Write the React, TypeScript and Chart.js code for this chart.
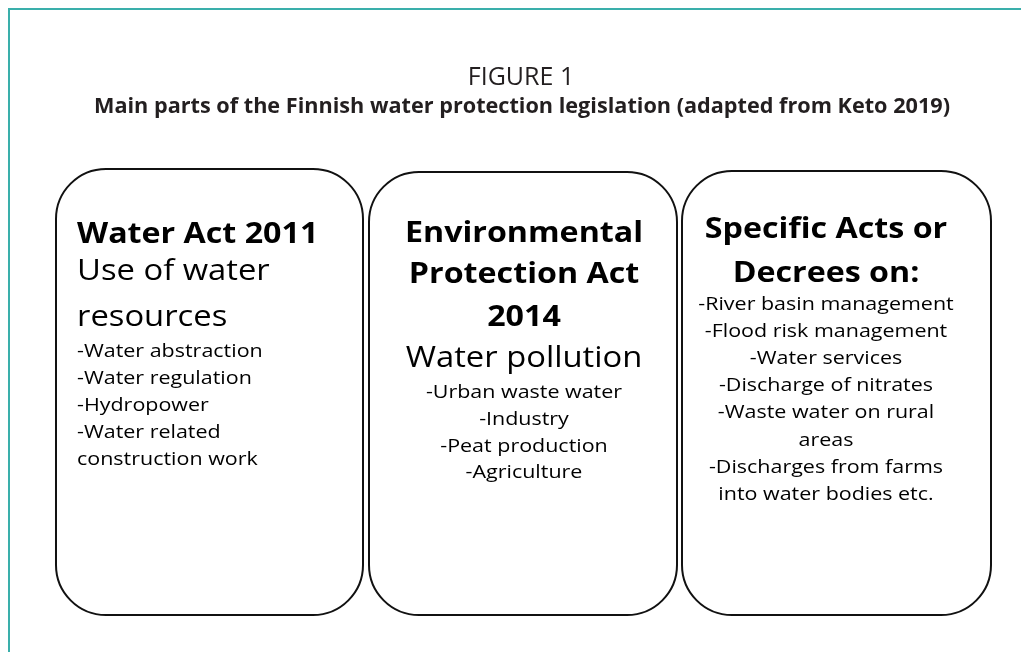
import React, { useEffect, useRef } from "react";
import { Chart, registerables } from "chart.js";

Chart.register(...registerables);

// ---- content ----
const figureLabel = "FIGURE 1";
const figureTitle =
  "Main parts of the Finnish water protection legislation (adapted from Keto 2019)";

const boxHeadings: string[][] = [
  ["Water Act 2011"],
  ["Environmental", "Protection Act", "2014"],
  ["Specific Acts or", "Decrees on:"],
];
const boxSubheadings: string[][] = [["Use of water", "resources"], ["Water pollution"], []];
const boxItems: string[][] = [
  ["-Water abstraction", "-Water regulation", "-Hydropower", "-Water related", "construction work"],
  ["-Urban waste water", "-Industry", "-Peat production", "-Agriculture"],
  [
    "-River basin management",
    "-Flood risk management",
    "-Water services",
    "-Discharge of nitrates",
    "-Waste water on rural",
    "areas",
    "-Discharges from farms",
    "into water bodies etc.",
  ],
];

// ---- layout (scale units == pixels) ----
const W = 1021;
const H = 652;
const boxLayout = [
  { x0: 56, x1: 363, y0: 169, y1: 615, align: "left", tx: 77, head: [243], sub: [280, 326], items: 357, step: 27 },
  { x0: 369, x1: 677, y0: 172, y1: 615, align: "center", tx: 524, head: [242, 283, 326], sub: [367], items: 398, step: 26.8 },
  { x0: 682, x1: 991, y0: 171, y1: 615, align: "center", tx: 826, head: [238, 282], sub: [], items: 310, step: 27.1 },
];
const FONT = "'Open Sans', 'Noto Sans', sans-serif";
const STRETCH = 1.15;

function stretchedText(ctx: CanvasRenderingContext2D, t: string, x: number, y: number, s: number) {
  ctx.save();
  ctx.translate(x, y);
  ctx.scale(s, 1);
  ctx.fillText(t, 0, 0);
  ctx.restore();
}

const diagramPlugin = {
  id: "diagram",
  afterDraw(chart: any) {
    const ctx: CanvasRenderingContext2D = chart.ctx;
    const xs = chart.scales.x;
    const ys = chart.scales.y;
    const px = (v: number) => xs.getPixelForValue(v);
    const py = (v: number) => ys.getPixelForValue(v);
    ctx.save();
    ctx.fillStyle = "#ffffff";
    ctx.fillRect(0, 0, chart.width, chart.height);

    // teal frame (top + left)
    ctx.strokeStyle = "#3aafab";
    ctx.lineWidth = 2;
    ctx.beginPath();
    ctx.moveTo(px(W), py(9));
    ctx.lineTo(px(9), py(9));
    ctx.lineTo(px(9), py(H));
    ctx.stroke();

    // titles
    ctx.fillStyle = "#231f20";
    ctx.textAlign = "center";
    ctx.textBaseline = "alphabetic";
    ctx.font = `400 25px ${FONT}`;
    ctx.fillText(figureLabel, px(521), py(85), 108);
    ctx.font = `700 22px ${FONT}`;
    ctx.fillText(figureTitle, px(522), py(113), 856);

    // boxes
    boxLayout.forEach((b, i) => {
      const x0 = px(b.x0), x1 = px(b.x1), y0 = py(b.y0), y1 = py(b.y1);
      const r = 50;
      ctx.strokeStyle = "#111111";
      ctx.lineWidth = 2;
      ctx.beginPath();
      ctx.moveTo(x0 + r, y0);
      ctx.lineTo(x1 - r, y0);
      ctx.arcTo(x1, y0, x1, y0 + r, r);
      ctx.lineTo(x1, y1 - r);
      ctx.arcTo(x1, y1, x1 - r, y1, r);
      ctx.lineTo(x0 + r, y1);
      ctx.arcTo(x0, y1, x0, y1 - r, r);
      ctx.lineTo(x0, y0 + r);
      ctx.arcTo(x0, y0, x0 + r, y0, r);
      ctx.closePath();
      ctx.stroke();

      ctx.fillStyle = "#000000";
      ctx.textAlign = b.align as CanvasTextAlign;
      const tx = px(b.tx);
      ctx.font = `700 28px ${FONT}`;
      boxHeadings[i].forEach((t, k) => stretchedText(ctx, t, tx, py(b.head[k]), STRETCH));
      ctx.font = `400 29px ${FONT}`;
      boxSubheadings[i].forEach((t, k) => stretchedText(ctx, t, tx, py(b.sub[k]), 1.13));
      ctx.font = `400 18.5px ${FONT}`;
      boxItems[i].forEach((t, k) => stretchedText(ctx, t, tx, py(b.items + k * b.step), 1.16));
    });
    ctx.restore();
  },
};

export default function App() {
  const ref = useRef<HTMLCanvasElement | null>(null);
  useEffect(() => {
    document.body.style.margin = "0";
    document.body.style.overflow = "hidden";
    if (!ref.current) return;
    const chart = new Chart(ref.current, {
      type: "scatter",
      data: { datasets: [{ data: [] }] },
      options: {
        animation: false,
        responsive: false,
        layout: { padding: 0 },
        plugins: { legend: { display: false }, tooltip: { enabled: false } },
        scales: {
          x: { type: "linear", min: 0, max: W, display: false },
          y: { type: "linear", min: 0, max: H, reverse: true, display: false },
        },
      },
      plugins: [diagramPlugin],
    });
    return () => chart.destroy();
  }, []);
  return (
    <div style={{ width: W, height: H }}>
      <canvas ref={ref} width={W} height={H} style={{ display: "block" }} />
    </div>
  );
}
